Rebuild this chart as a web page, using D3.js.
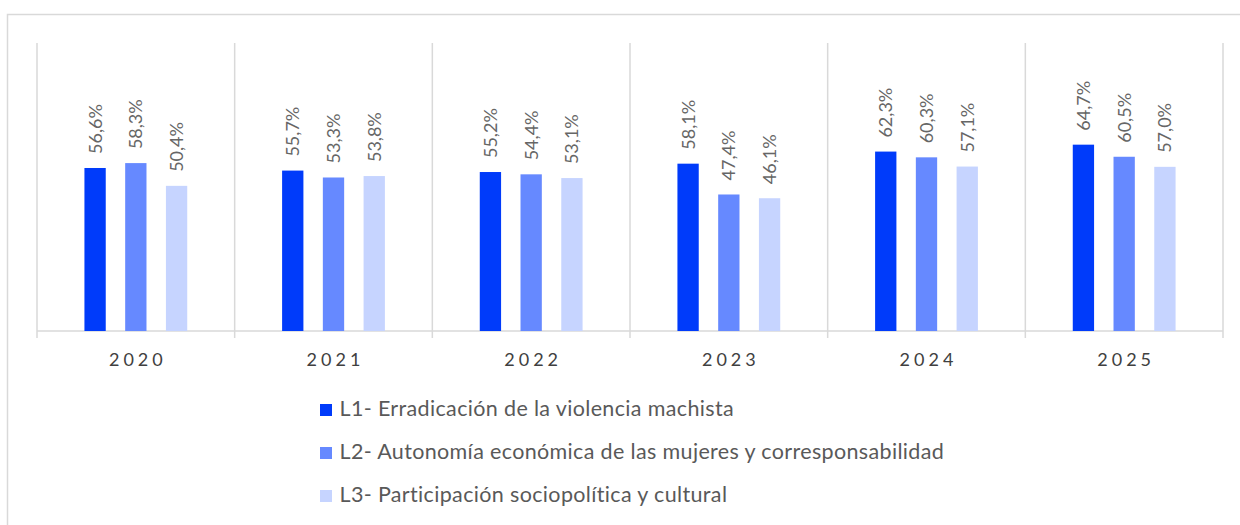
<!DOCTYPE html>
<html>
<head>
<meta charset="utf-8">
<script src="https://cdn.jsdelivr.net/npm/d3@7"></script>
<style>
  html, body { margin: 0; padding: 0; background: #fff; }
  svg { display: block; }
  text { font-family: Lato, "Open Sans", sans-serif; }
</style>
</head>
<body>
<svg id="chart" width="1240" height="525"></svg>
<script>
const years = ["2020", "2021", "2022", "2023", "2024", "2025"];
const seriesNames = [
  "L1- Erradicación de la violencia machista",
  "L2- Autonomía económica de las mujeres y corresponsabilidad",
  "L3- Participación sociopolítica y cultural"
];
const seriesColors = ["#003BFA", "#6689FF", "#C6D4FF"];
const l1Values = [56.6, 55.7, 55.2, 58.1, 62.3, 64.7];
const l2Values = [58.3, 53.3, 54.4, 47.4, 60.3, 60.5];
const l3Values = [50.4, 53.8, 53.1, 46.1, 57.1, 57.0];
const seriesValues = [l1Values, l2Values, l3Values];

const svg = d3.select("#chart");

// outer frame
svg.append("path")
  .attr("d", "M7.5,530 V14.5 H1245")
  .attr("fill", "none").attr("stroke", "#d9d9d9").attr("stroke-width", 1.5);

const plot = { left: 37, right: 1223, top: 43, bottom: 331 };

const x0 = d3.scaleBand().domain(years).range([plot.left, plot.right]).padding(0);
const half = x0.bandwidth() / 2;
const x1 = d3.scaleBand().domain([0, 1, 2]).range([half - 51.4, half + 51.4]).paddingInner(0.477).paddingOuter(0);
const y = d3.scaleLinear().domain([0, 100]).range([plot.bottom, plot.top]);

const fmt = v => d3.format(".1f")(v).replace(".", ",") + "%";

// category separators
const sepX = years.map(d => x0(d)).concat([plot.right]);
svg.append("g").selectAll("line").data(sepX).join("line")
  .attr("x1", d => d).attr("x2", d => d)
  .attr("y1", plot.top).attr("y2", plot.bottom + 7)
  .attr("stroke", "#d9d9d9").attr("stroke-width", 1.5);

// baseline
svg.append("line")
  .attr("x1", plot.left).attr("x2", plot.right)
  .attr("y1", plot.bottom).attr("y2", plot.bottom)
  .attr("stroke", "#d9d9d9").attr("stroke-width", 1.5);

// bars
const groups = svg.append("g").selectAll("g").data(years).join("g")
  .attr("transform", d => `translate(${x0(d)},0)`);

groups.each(function(yr, i) {
  const g = d3.select(this);
  seriesValues.forEach((vals, s) => {
    const v = vals[i];
    const bx = x1(s);
    g.append("rect")
      .attr("x", bx).attr("y", y(v))
      .attr("width", x1.bandwidth()).attr("height", y(0) - y(v))
      .attr("fill", seriesColors[s]);
    const cx = bx + x1.bandwidth() / 2 + 6.5;
    const ty = y(v) - 14;
    g.append("text")
      .attr("transform", `translate(${cx},${ty}) rotate(-90)`)
      .attr("text-anchor", "start")
      .attr("fill", "#666666")
      .attr("font-size", 18)
      .text(fmt(v));
  });
});

// year labels
svg.append("g").selectAll("text").data(years).join("text")
  .attr("x", d => x0(d) + x0.bandwidth() / 2 + 2)
  .attr("y", 366)
  .attr("text-anchor", "middle")
  .attr("fill", "#404040")
  .attr("font-size", 18)
  .attr("letter-spacing", 4)
  .text(d => d);

// legend
const legend = svg.append("g").selectAll("g").data(seriesNames).join("g")
  .attr("transform", (d, i) => `translate(320,${416 + i * 43})`);
legend.append("rect")
  .attr("x", 0).attr("y", -12).attr("width", 12).attr("height", 12)
  .attr("fill", (d, i) => seriesColors[i]);
legend.append("text")
  .attr("x", 19.5).attr("y", 0)
  .attr("fill", "#595959")
  .attr("font-size", 21.5)
  .attr("letter-spacing", 0.35)
  .text(d => d);
</script>
</body>
</html>
